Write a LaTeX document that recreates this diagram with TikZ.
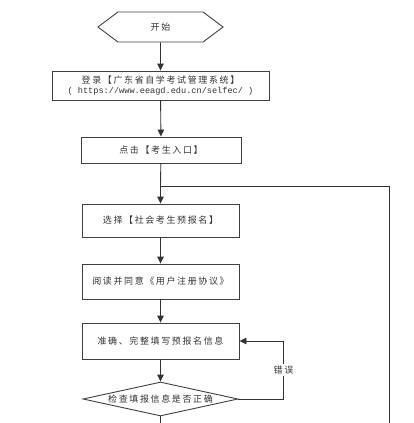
\documentclass[tikz,border=0pt]{standalone}
\usepackage{fontspec}
\newfontfamily\cjk[LetterSpace=18]{Noto Sans CJK SC}
\setmonofont{Liberation Mono}
\usetikzlibrary{arrows.meta,shapes.geometric,shapes.symbols}

\tikzset{
  stepbox/.style={draw=black!75,line width=0.9pt,inner sep=0pt,align=center},
  flow/.style={draw=black!80,line width=0.9pt,-{Triangle[length=7pt,width=6.5pt]}},
  plain/.style={draw=black!80,line width=0.9pt}
}

\begin{document}
\begin{tikzpicture}[x=1pt,y=-1pt,font=\cjk\fontsize{9}{11}\selectfont,text=black!80]
\path[use as bounding box] (0,0) rectangle (413,423);
% nodes
\node[stepbox,signal,signal to=west and east,signal pointer angle=74,
      minimum width=125pt,minimum height=30pt] (start) at (160.5,27) {开始};
\node[stepbox,minimum width=217pt,minimum height=29pt] (login) at (160.5,85.5)
  {登录【广东省自学考试管理系统】\\[-1.5pt]{\ttfamily\fontsize{8.6}{10}\selectfont ( https://www.eeagd.edu.cn/selfec/ )}};
\node[stepbox,minimum width=160pt,minimum height=26pt] (click) at (161,150) {点击【考生入口】};
\coordinate (join) at (160.5,186);
\node[stepbox,minimum width=157pt,minimum height=33pt] (select) at (160.5,220.5) {选择【社会考生预报名】};
\node[stepbox,minimum width=157pt,minimum height=35pt] (read) at (160.5,281.5) {阅读并同意《用户注册协议》};
\node[stepbox,minimum width=157pt,minimum height=36pt] (fill) at (160.5,341) {准确、完整填写预报名信息};
\node[stepbox,diamond,minimum width=155pt,minimum height=34pt,
      label=center:{检查填报信息是否正确}] (check) at (160.5,399) {};
\coordinate (down) at (160.5,423);
\coordinate (back) at (389,423);
% connectors
\draw[flow] (start) -- (login);
\draw[flow] (login) -- (click);
\draw[plain] (click) -- (join);
\draw[flow] (join) -- (select);
\draw[flow] (select) -- (read);
\draw[flow] (read) -- (fill);
\draw[flow] (fill) -- (check);
\draw[plain] (check) -- (down);
\draw[plain] (back) |- (join);
\draw[flow] (check.east) -- ++(45,0) |- (fill.east)
  node[pos=0.25,fill=white,inner sep=2pt] {错误};
\end{tikzpicture}
\end{document}
